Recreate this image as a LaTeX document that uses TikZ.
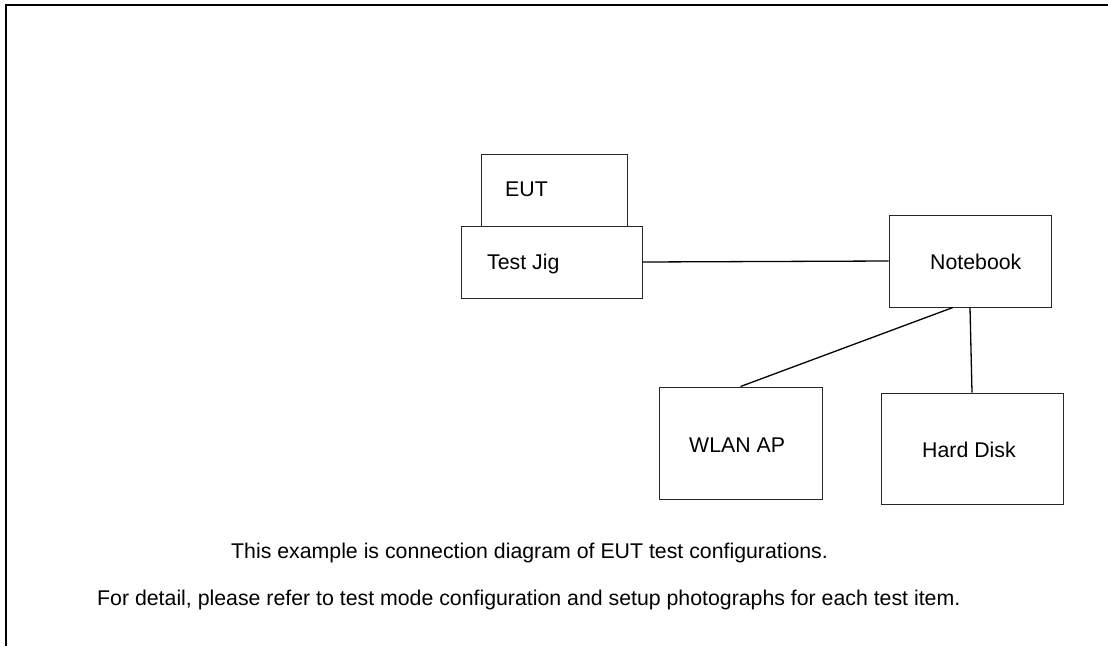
\documentclass[tikz,border=0pt]{standalone}
\usepackage{fontspec}
\setmainfont{Liberation Sans}
\usetikzlibrary{calc}
\begin{document}
\begin{tikzpicture}[x=1pt,y=-1pt,
  box/.style={draw=black!85, line width=1pt, rectangle, inner sep=0pt},
  lbl/.style={anchor=base west, inner sep=0pt, font=\fontsize{21.3}{25}\selectfont},
  wire/.style={draw=black, line width=1.3pt},
  frame/.style={draw=black, line width=2.2pt}]
\useasboundingbox (0,0) rectangle (1108,646);
% outer frame (top and left only)
\coordinate (ftr) at (1108,5);
\coordinate (ftl) at (6,5);
\coordinate (fbl) at (6,646);
\draw[frame] (ftr) -- (ftl) -- (fbl);
% boxes
\node[box, minimum width=146pt, minimum height=72pt] (eut) at (554,190) {};
\node[box, fill=white, minimum width=181pt, minimum height=72pt] (jig) at (551.5,262) {};
\node[box, minimum width=162pt, minimum height=92pt] (nb) at (970,261) {};
\node[box, minimum width=163pt, minimum height=112pt] (wlan) at (740.5,443) {};
\node[box, minimum width=182pt, minimum height=111pt] (hd) at (972,448.5) {};
% labels
\node[lbl] (teut) at (505,196) {EUT};
\node[lbl] (tjig) at (487,269) {Test Jig};
\node[lbl] (tnb) at (930,269) {Notebook};
\node[lbl] (twlan) at (689,452) {WLAN AP};
\node[lbl] (thd) at (922,457) {Hard Disk};
\node[lbl] (note1) at (231,558) {This example is connection diagram of EUT test configurations.};
\node[lbl] (note2) at (97,605) {For detail, please refer to test mode configuration and setup photographs for each test item.};
% connectors
\draw[wire] (jig.east) -- (nb.west);
\draw[wire] ($(nb.south west)!0.395!(nb.south east)$) -- (wlan.north);
\draw[wire] (nb.south) -- (hd.north);
\end{tikzpicture}
\end{document}
